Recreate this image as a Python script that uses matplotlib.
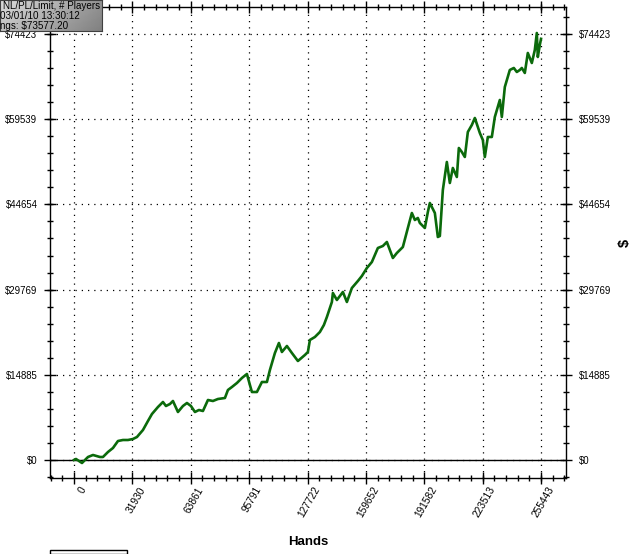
import numpy as np
import matplotlib
matplotlib.use("Agg")
import matplotlib.pyplot as plt
from matplotlib.ticker import FixedLocator, AutoMinorLocator
from matplotlib.patches import Rectangle
from matplotlib.transforms import ScaledTranslation

# cumulative winnings
hands = [0, 1094, 4374, 7655, 10388, 14216, 15856, 18590, 21323, 24057,
         26791, 29525, 32258, 34445, 37726, 40460, 42647, 45927, 48661, 50301,
         52488, 54128, 56862, 59596, 61783, 63970, 66157, 68344, 70531, 73265,
         75998, 78732, 82559, 84200, 86387, 89120, 91854, 94588, 96228, 97322,
         100055, 102789, 105523, 107163, 109897, 112084, 113724, 116458, 119192, 122472,
         126299, 127940, 129033, 131767, 134501, 136688, 138328, 141062, 141608, 143795,
         145436, 147076, 149263, 151997, 155277, 157464, 160198, 162932, 166212, 168946,
         171133, 172773, 174413, 176600, 179881, 182615, 184802, 186442, 188082, 189176,
         191909, 193550, 194643, 197377, 199017, 200111, 201751, 203938, 205578, 207218,
         209405, 210499, 212139, 213779, 215420, 217607, 219247, 221981, 223621, 224714,
         226355, 228542, 230182, 232916, 234009, 235649, 238383, 240570, 242210, 243851,
         244944, 246584, 248225, 250412, 252052, 253145, 253692, 254786, 255443]
winnings = [0, 175, -524, 524, 874, 524, 524, 1398, 2097, 3319,
            3494, 3494, 3669, 4018, 5241, 6814, 8037, 9260, 10133, 9434,
            9784, 10308, 8386, 9434, 9958, 9434, 8386, 8736, 8561, 10483,
            10308, 10657, 10832, 12230, 12754, 13453, 14326, 15025, 13103, 11880,
            11880, 13627, 13627, 15724, 18694, 20441, 18869, 19917, 18694, 17296,
            18345, 18869, 20965, 21489, 22363, 23586, 24984, 27604, 29177, 27954,
            28652, 29351, 27604, 30050, 31273, 32147, 33544, 34593, 37039, 37388,
            38087, 36689, 35291, 36165, 37213, 40533, 43153, 41930, 42280, 41406,
            40533, 43328, 44900, 43153, 38960, 39135, 47172, 52064, 48395, 51015,
            49443, 54510, 53811, 52937, 57305, 58528, 59751, 57130, 55907, 52937,
            56431, 56431, 59926, 62896, 59926, 65167, 68137, 68486, 67787, 68137,
            68486, 67613, 71107, 69360, 71631, 74600, 70408, 72505, 73577]

x_ticks = [0, 31930, 63861, 95791, 127722, 159652, 191582, 223513, 255443]
y_ticks = [0, 14885, 29769, 44654, 59539, 74423]

info_lines = ["NL/PL/Limit, # Players", "03/01/10 13:30:12", "ngs: $73577.20"]

plt.rcParams['font.family'] = ['Liberation Sans', 'DejaVu Sans']

W, H = 633, 554
fig = plt.figure(figsize=(W / 100, H / 100), dpi=100)
ax = fig.add_axes([50 / W, 1 - 478 / H, 516 / W, 471 / H])

ax.plot(hands, winnings, color='#0b6a0b', lw=1.9, zorder=3)
ax.axhline(0, color='black', lw=1.0, zorder=2)

ax.set_xlim(-13120, 269110)
ax.set_ylim(-3145, 79140)

ax.xaxis.set_major_locator(FixedLocator(x_ticks))
ax.yaxis.set_major_locator(FixedLocator(y_ticks))
ax.xaxis.set_minor_locator(AutoMinorLocator(5))
ax.yaxis.set_minor_locator(AutoMinorLocator(5))
ax.set_xticklabels([str(v) for v in x_ticks], rotation=60, ha='right',
                   rotation_mode='anchor', fontsize=7.3)
ax.set_yticklabels(['$%d' % v for v in y_ticks], fontsize=6.9)

ax.tick_params(which='both', direction='inout', top=True, right=True,
               labelright=True, color='black', width=1.0)
ax.tick_params(which='major', length=8, pad=5)
ax.tick_params(which='minor', length=4.5)
ax.tick_params(axis='x', which='major', pad=1)
shift = ScaledTranslation(6 / 100, 0, fig.dpi_scale_trans)
for lbl in ax.get_xticklabels():
    lbl.set_transform(lbl.get_transform() + shift)

ax.grid(True, which='major', color='black', linestyle=(0, (1, 4)), lw=0.9)
for s in ax.spines.values():
    s.set_linewidth(1.0)

ax.set_xlabel('Hands', fontsize=9.5, fontweight='bold', labelpad=12)
ax.set_ylabel('')
fig.text(625 / W, 1 - 243 / H, '$', fontsize=10.5, fontweight='bold',
         rotation=90, ha='center', va='center')

# grey info box in the top-left corner
bax = fig.add_axes([0, 1 - 31 / H, 102 / W, 31 / H])
grad = np.linspace(0.82, 0.55, 64).reshape(1, -1) * np.linspace(1.05, 0.92, 16).reshape(-1, 1)
bax.imshow(grad, cmap='gray', vmin=0, vmax=1, aspect='auto', extent=[0, 1, 0, 1])
bax.set_xticks([])
bax.set_yticks([])
for s in bax.spines.values():
    s.set_color('#404040')
fig.text(3 / W, 1 - 6 / H, info_lines[0], fontsize=7.1, va='center', ha='left')
fig.text(0, 1 - 16 / H, info_lines[1], fontsize=7.1, va='center', ha='left')
fig.text(0, 1 - 26 / H, info_lines[2], fontsize=7.1, va='center', ha='left')

# legend frame cut off at the bottom
fig.patches.append(Rectangle((50 / W, 0), 77 / W, 4.5 / H, transform=fig.transFigure,
                             facecolor='white', edgecolor='black', lw=1.0))

fig.savefig('out.png', dpi=100, facecolor='white')
